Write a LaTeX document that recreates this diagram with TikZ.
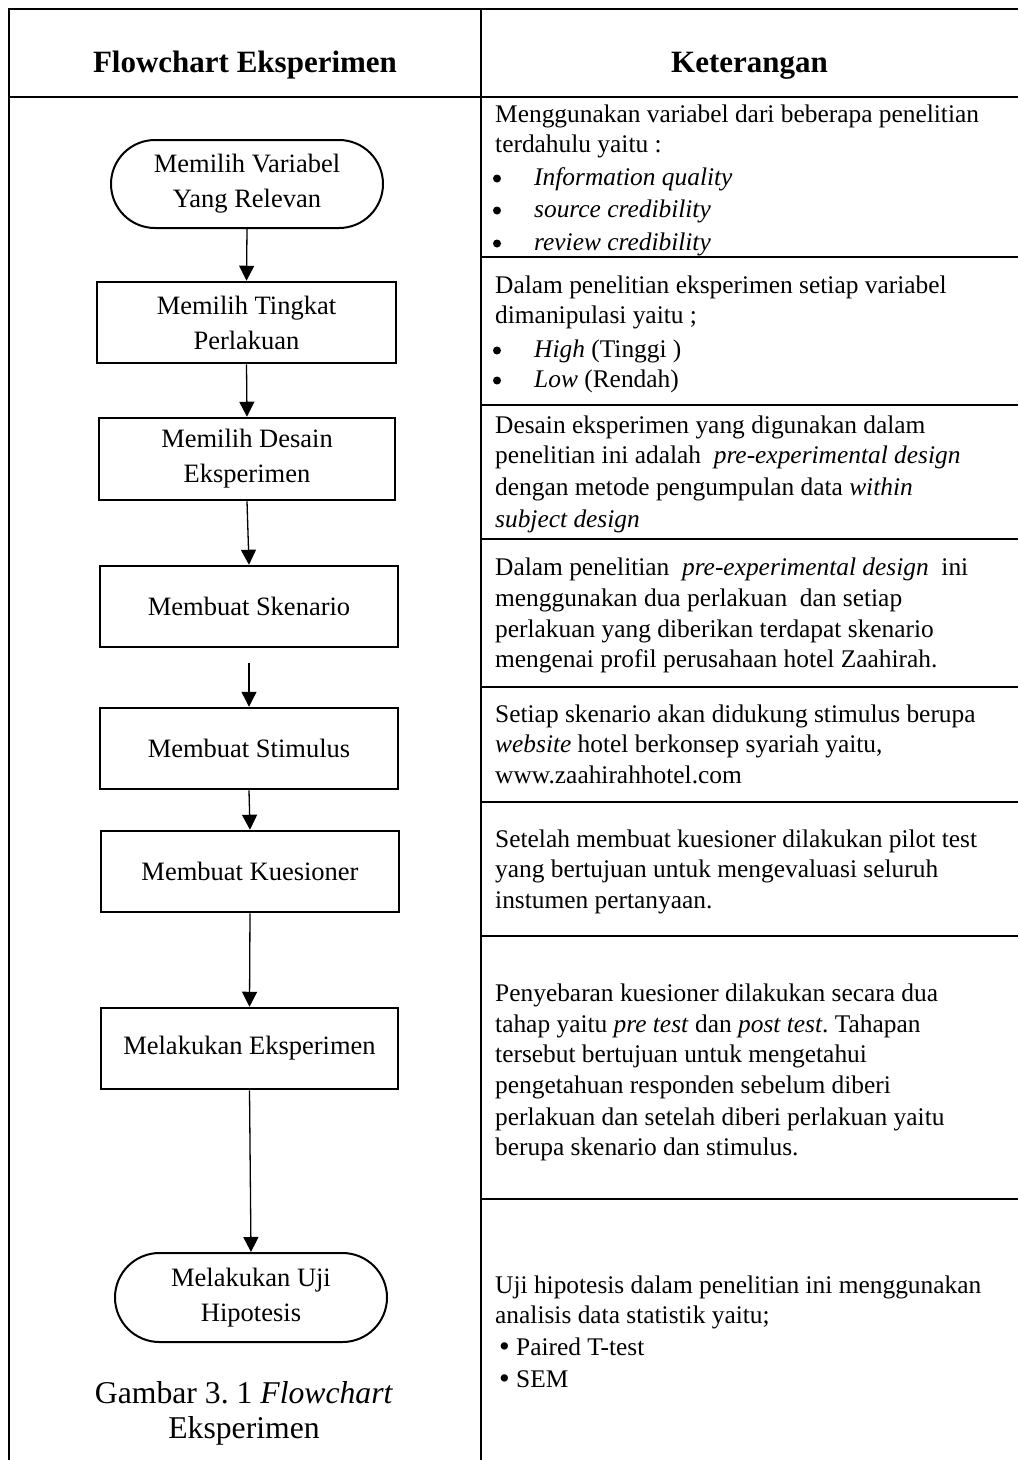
\documentclass[tikz,border=0pt]{standalone}
\usepackage{graphicx}
\usepackage{fontspec}
\setmainfont{Liberation Serif}
\usetikzlibrary{arrows.meta,shapes.misc}
\frenchspacing
\newcommand\fcBoxFont{\fontsize{26.5}{35}\selectfont}
\newcommand\fcTxtFont{\fontsize{25.4}{31}\selectfont}
\newcommand\fcHeadFont{\fontsize{31}{36}\selectfont\bfseries}
\newcommand\fcCapFont{\fontsize{31.7}{35}\selectfont}
\newcommand\fcSBul{\smash{\raisebox{-1.5pt}{\scalebox{1.2}{•}}}}
\begin{document}
\begin{tikzpicture}[x=1pt,y=-1pt,
  tline/.style={line width=2.6pt},
  stepbox/.style={draw,line width=2.5pt,inner sep=0pt,align=center,font=\fcBoxFont},
  term/.style={draw,rounded rectangle,line width=2pt,inner sep=0pt,align=center,font=\fcBoxFont},
  arr/.style={line width=1.3pt,-{Triangle[width=15pt,length=15pt]}},
  rt/.style={anchor=base west,inner sep=0pt,font=\fcTxtFont},
  hd/.style={anchor=base,inner sep=0pt,font=\fcHeadFont},
  captext/.style={anchor=base,inner sep=0pt,font=\fcCapFont},
  bul/.style={fill=black},
]
\useasboundingbox[fill=white] (0,0) rectangle (1018,1460);

% table lines
\draw[tline] (1018,9) -- (9,9) -- (9,1460);
\draw[tline] (481,9) -- (481,1460);
\draw[tline] (9,97) -- (1018,97);
\foreach \yy in {257,405,539,687,802,936,1199}
  \draw[tline] (481,\yy) -- (1018,\yy);

% headers
\node[hd] (h1) at (245,72) {Flowchart Eksperimen};
\node[hd] (h2) at (749.5,72) {Keterangan};

% flowchart
\node[term, minimum width=272pt, minimum height=88pt] (s1) at (247,184) {Memilih Variabel\\Yang Relevan};
\node[stepbox, minimum width=299pt, minimum height=81pt] (s2) at (246.5,322.5) {Memilih Tingkat\\Perlakuan};
\node[stepbox, minimum width=296pt, minimum height=82pt] (s3) at (247,459) {Memilih Desain\\Eksperimen};
\node[stepbox, minimum width=298pt, minimum height=81pt] (s4) at (249,606.5) {Membuat Skenario};
\node[stepbox, minimum width=298pt, minimum height=81pt] (s5) at (249,748.5) {Membuat Stimulus};
\node[stepbox, minimum width=298pt, minimum height=81pt] (s6) at (250,871.5) {Membuat Kuesioner};
\node[stepbox, minimum width=297pt, minimum height=81pt] (s7) at (249.5,1048.5) {Melakukan Eksperimen};
\node[term, minimum width=272pt, minimum height=89pt] (s8) at (251,1297.5) {Melakukan Uji\\Hipotesis};

\draw[arr] (s1.south) -- (s2.north);
\draw[arr] (s2.south) -- (s3.north);
\draw[arr] (s3.south) -- (s4.north);
\draw[arr, shorten <=15pt] (s4.south) -- (s5.north);
\draw[arr] (s5.south) -- (s6.north);
\draw[arr] (s6.south) -- (s7.north);
\draw[arr] (s7.south) -- (s8.north);

% caption
\node[captext] (c1) at (244,1403) {Gambar 3. 1 \textit{Flowchart}};
\node[captext] (c2) at (244,1438) {Eksperimen};

% right column text
\node[rt] (r1a) at (495,122) {Menggunakan variabel dari beberapa penelitian};
\node[rt] (r1b) at (495,152) {terdahulu yaitu :};
\fill[bul] (497,178.5) circle (4pt);
\node[rt] (r1c) at (534,185) {\textit{Information quality}};
\fill[bul] (497,210.5) circle (4pt);
\node[rt] (r1d) at (534,217) {\textit{source credibility}};
\fill[bul] (497,243.5) circle (4pt);
\node[rt] (r1e) at (534,250) {\textit{review credibility}};

\node[rt] (r2a) at (495,293) {Dalam penelitian eksperimen setiap variabel};
\node[rt] (r2b) at (495,323) {dimanipulasi yaitu ;};
\fill[bul] (497,350.5) circle (4pt);
\node[rt] (r2c) at (534,357) {\textit{High} (Tinggi )};
\fill[bul] (497,380.5) circle (4pt);
\node[rt] (r2d) at (534,387) {\textit{Low} (Rendah)};

\node[rt] (r3a) at (495,433) {Desain eksperimen yang digunakan dalam};
\node[rt] (r3b) at (495,463) {penelitian ini adalah\ \ \textit{pre-experimental design}};
\node[rt] (r3c) at (495,495) {dengan metode pengumpulan data \textit{within}};
\node[rt] (r3d) at (495,527) {\textit{subject design}};

\node[rt] (r4a) at (495,575) {Dalam penelitian\ \ \textit{pre-experimental design}\ \ ini};
\node[rt] (r4b) at (495,606) {menggunakan dua perlakuan\ \ dan setiap};
\node[rt] (r4c) at (495,637) {perlakuan yang diberikan terdapat skenario};
\node[rt] (r4d) at (495,667) {mengenai profil perusahaan hotel Zaahirah.};

\node[rt] (r5a) at (495,722) {Setiap skenario akan didukung stimulus berupa};
\node[rt] (r5b) at (495,752) {\textit{website} hotel berkonsep syariah yaitu,};
\node[rt] (r5c) at (495,783) {www.zaahirahhotel.com};

\node[rt] (r6a) at (495,847) {Setelah membuat kuesioner dilakukan pilot test};
\node[rt] (r6b) at (495,877) {yang bertujuan untuk mengevaluasi seluruh};
\node[rt] (r6c) at (495,908) {instumen pertanyaan.};

\node[rt] (r7a) at (495,1001) {Penyebaran kuesioner dilakukan secara dua};
\node[rt] (r7b) at (495,1032) {tahap yaitu \textit{pre test} dan \textit{post test}. Tahapan};
\node[rt] (r7c) at (495,1062) {tersebut bertujuan untuk mengetahui};
\node[rt] (r7d) at (495,1093) {pengetahuan responden sebelum diberi};
\node[rt] (r7e) at (495,1125) {perlakuan dan setelah diberi perlakuan yaitu};
\node[rt] (r7f) at (495,1155) {berupa skenario dan stimulus.};

\node[rt] (r8a) at (495,1293) {Uji hipotesis dalam penelitian ini menggunakan};
\node[rt] (r8b) at (495,1323) {analisis data statistik yaitu;};
\node[rt] (r8c) at (499,1355) {\fcSBul\ Paired T-test};
\node[rt] (r8d) at (499,1387) {\fcSBul\ SEM};
\end{tikzpicture}
\end{document}
